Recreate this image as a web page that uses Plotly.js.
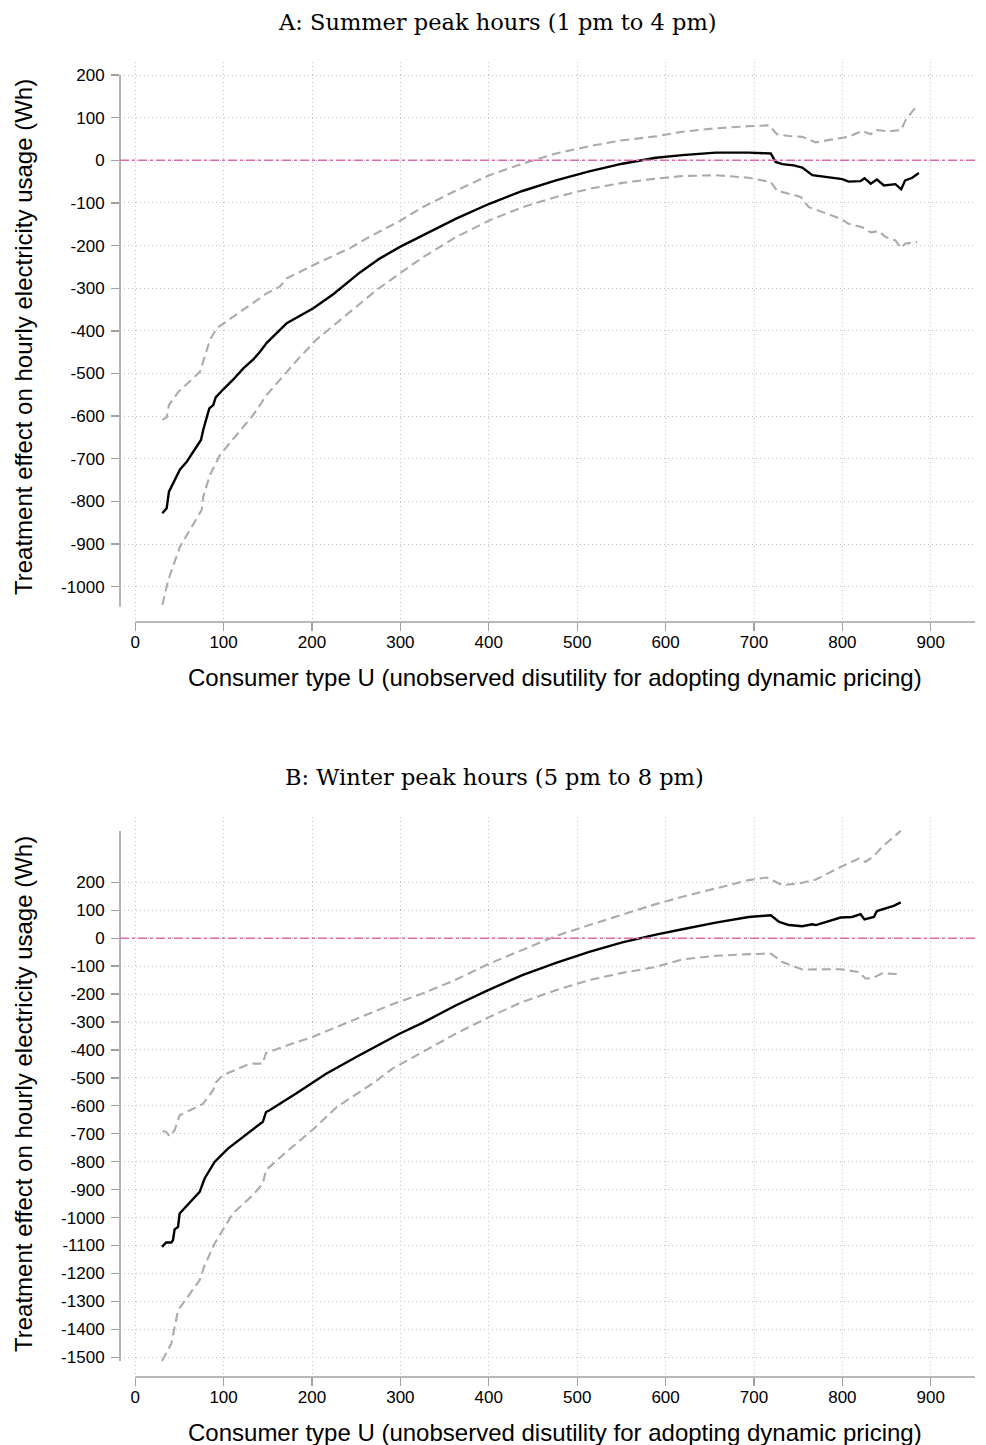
<!DOCTYPE html>
<html>
<head>
<meta charset="utf-8">
<script src="https://cdn.plot.ly/plotly-3.0.1.min.js"></script>
<style>
html,body{margin:0;padding:0;background:#fff;}
#chart{width:986px;height:1445px;}
</style>
</head>
<body>
<div id="chart"></div>
<script>
// ---------- Panel A: Summer peak hours ----------
const summerEffectU = [30.7, 35.6, 38.2, 41.3, 43.9, 47.6, 50.7, 58.3, 67.6, 74.4, 77, 79.3, 83.8, 88.3, 91, 99.7, 111, 122.3, 133.6, 141.2, 148.8, 167.5, 171.4, 201.5, 224, 254.3, 276.9, 299.5, 325, 363, 400.6, 438, 476, 513.6, 551, 589, 619, 656.7, 694, 719, 724.5, 732, 745, 754.6, 766, 781, 800, 807, 820.5, 825, 832, 839, 847, 860, 866.5, 871, 879, 886.5];
const summerEffect = [-828, -816, -777, -765, -754, -738, -725, -707, -679, -656, -632, -613, -582, -574, -556, -537, -514, -488, -467, -449, -428, -390, -382, -347, -314, -263, -230, -203, -176, -137, -102, -72, -47, -26, -8, 6, 12, 18, 18, 16, -4, -9, -12, -17, -35, -39, -44, -50, -49, -42, -55, -45, -59, -56, -68, -47, -41, -30];

const summerUpperU = [30.7, 35.6, 38.2, 48.8, 73.3, 79, 84.6, 92.2, 129.9, 148.8, 163.8, 171.4, 205.3, 243, 261.9, 299.5, 325, 363, 400.6, 438, 476, 513.6, 551, 589, 619, 656.7, 694, 717, 726, 739.5, 754.6, 770, 788.5, 807, 822.4, 832, 837.5, 852.5, 866.5, 871.4, 884.5];
const summerUpper = [-609, -603, -574, -543, -496, -457, -421, -394, -339, -312, -296, -277, -242, -206, -183, -142, -110, -71, -35, -8, 16, 33, 47, 56, 67, 75, 80, 82, 61, 57, 55, 42, 49, 55, 69, 61, 71, 68, 71, 94, 129];

const summerLowerU = [30.7, 37.4, 50.7, 62, 75.2, 77, 84.6, 95.9, 122.3, 133.6, 148.8, 171.4, 186.4, 205.3, 273.2, 299.5, 325, 363, 400.6, 438, 476, 513.6, 551, 589, 619, 656.7, 694, 719, 726, 752.8, 762, 798, 807, 822.4, 832, 841, 849, 860, 866, 871.4, 884.5];
const summerLower = [-1043, -984, -906, -867, -820, -789, -738, -691, -625, -597, -550, -496, -461, -420, -304, -265, -228, -180, -141, -110, -86, -67, -53, -43, -37, -35, -41, -51, -71, -86, -110, -137, -149, -157, -169, -166, -180, -188, -205, -195, -192];

// ---------- Panel B: Winter peak hours ----------
const winterEffectU = [30.3, 35, 40.9, 42.7, 44.6, 48.4, 50.3, 72.9, 78.5, 89.8, 104.9, 133, 144.4, 148, 152, 182, 216, 250, 269, 299, 325, 363, 400.6, 438, 476, 513.6, 551, 589, 619, 656.7, 694, 719, 728.5, 739.5, 754.6, 766, 770, 798, 811, 820.5, 825, 835.6, 839, 848.5, 858, 866];
const winterEffect = [-1105, -1089, -1089, -1081, -1042, -1034, -985, -908, -860, -801, -753, -685, -657, -622, -616, -556, -485, -425, -392, -342, -303, -240, -184, -132, -88, -49, -15, 13, 32, 56, 76, 82, 58, 47, 43, 50, 47, 74, 76, 86, 67, 76, 97, 106, 116, 128];

const winterUpperU = [30.7, 35, 38.9, 44.6, 50.3, 73, 76.6, 88, 91.7, 97, 103, 125.5, 133, 144, 148, 178, 201, 246, 269, 291, 325, 363, 400.6, 438, 476, 513.6, 551, 589, 619, 656.7, 694, 714.5, 732, 751, 770, 798, 818.6, 826, 835.6, 845, 866];
const winterUpper = [-690, -693, -709, -687, -634, -599, -593, -545, -515, -497, -485, -455, -449, -449, -411, -377, -353, -294, -264, -236, -198, -148, -91, -43, 8, 47, 83, 122, 148, 178, 208, 217, 190, 196, 210, 255, 285, 273, 294, 327, 384];

const winterLowerU = [30.3, 40.9, 48.4, 72.9, 78.5, 89.8, 110.5, 133, 144.4, 148, 171, 201, 228, 270, 291, 325, 363, 400.6, 438, 476, 513.6, 551, 589, 619, 656.7, 694, 719, 732, 754.6, 798, 818.6, 826, 833.6, 845, 866];
const winterLower = [-1513, -1451, -1332, -1224, -1171, -1093, -985, -920, -878, -830, -765, -685, -604, -517, -467, -407, -341, -282, -228, -186, -150, -124, -103, -76, -63, -57, -55, -85, -112, -111, -121, -144, -144, -126, -129];

const xTicks = [0, 100, 200, 300, 400, 500, 600, 700, 800, 900];
const yTicksA = [-1000, -900, -800, -700, -600, -500, -400, -300, -200, -100, 0, 100, 200];
const yTicksB = [-1500, -1400, -1300, -1200, -1100, -1000, -900, -800, -700, -600, -500, -400, -300, -200, -100, 0, 100, 200];

const titleA = "A: Summer peak hours (1 pm to 4 pm)";
const titleB = "B: Winter peak hours (5 pm to 8 pm)";
const xTitle = "Consumer type U (unobserved disutility for adopting dynamic pricing)";
const yTitle = "Treatment effect on hourly electricity usage (Wh)";

// ---------- styles ----------
const W = 986, H = 1445;
const sans = "Liberation Sans, Arial, sans-serif";
const serif = "DejaVu Serif, serif";
const axisGray = "#a0a0a0";
const gridGray = "#c2c2c2";
const ciStyle = {color: "#ababab", width: 2.1, dash: "9px,5px"};
const estStyle = {color: "#000000", width: 2.4};

function traces(xa, ya, u, e, uu, up, lu, lo) {
  return [
    {x: uu, y: up, xaxis: xa, yaxis: ya, type: "scatter", mode: "lines", line: ciStyle, hoverinfo: "skip"},
    {x: lu, y: lo, xaxis: xa, yaxis: ya, type: "scatter", mode: "lines", line: ciStyle, hoverinfo: "skip"},
    {x: u, y: e, xaxis: xa, yaxis: ya, type: "scatter", mode: "lines", line: estStyle}
  ];
}

const data = [].concat(
  traces("x", "y", summerEffectU, summerEffect, summerUpperU, summerUpper, summerLowerU, summerLower),
  traces("x2", "y2", winterEffectU, winterEffect, winterUpperU, winterUpper, winterLowerU, winterLower)
);

const xRange = [-17.2, 950];
const xDomain = [120 / W, 975 / W];
const domA = [1 - 622 / H, 1 - 62 / H];
const domB = [1 - 1377 / H, 1 - 817 / H];

function xAxis(anchor) {
  return {
    domain: xDomain, range: xRange, anchor: anchor,
    tickmode: "array", tickvals: xTicks, ticktext: xTicks.map(String),
    showgrid: true, gridcolor: gridGray, griddash: "1px,3px", gridwidth: 1,
    zeroline: false, showline: false,
    ticks: "outside", ticklen: 8, tickwidth: 1.3, tickcolor: axisGray,
    ticklabelstandoff: -3,
    tickfont: {family: sans, size: 17, color: "#000"}
  };
}
function yAxis(anchor, dom, rng, tv) {
  return {
    domain: dom, range: rng, anchor: anchor,
    tickmode: "array", tickvals: tv, ticktext: tv.map(String),
    showgrid: true, gridcolor: gridGray, griddash: "1px,3px", gridwidth: 1,
    zeroline: false, showline: false,
    ticks: "outside", ticklen: 8, tickwidth: 1.3, tickcolor: axisGray,
    ticklabelstandoff: 3,
    tickfont: {family: sans, size: 17, color: "#000"}
  };
}

const pink = "#dc6aac";
const shapes = [
  {type: "line", xref: "x domain", yref: "y", x0: 0, x1: 0, y0: 200, y1: -1047, line: {color: axisGray, width: 1.6}},
  {type: "line", xref: "x", yref: "y domain", x0: 0, x1: xRange[1], y0: 0, y1: 0, line: {color: axisGray, width: 1.6}},
  {type: "line", xref: "x domain", yref: "y", x0: 0, x1: 1, y0: 0, y1: 0, line: {color: pink, width: 1.4, dash: "dashdot"}},
  {type: "line", xref: "x2 domain", yref: "y2", x0: 0, x1: 0, y0: 384, y1: -1513, line: {color: axisGray, width: 1.6}},
  {type: "line", xref: "x2", yref: "y2 domain", x0: 0, x1: xRange[1], y0: 0, y1: 0, line: {color: axisGray, width: 1.6}},
  {type: "line", xref: "x2 domain", yref: "y2", x0: 0, x1: 1, y0: 0, y1: 0, line: {color: pink, width: 1.4, dash: "dashdot"}}
];

function ann(text, xpx, ypx, font, angle) {
  return {text: text, xref: "paper", yref: "paper", x: xpx / W, y: 1 - ypx / H,
          xanchor: "center", yanchor: "middle", showarrow: false, font: font, textangle: angle || 0};
}
const titleFont = {family: serif, size: 22.5, color: "#000"};
const axTitleFont = {family: sans, size: 24, color: "#000"};
const annotations = [
  ann(titleA, 497, 22, titleFont),
  ann(titleB, 495, 777, titleFont),
  ann(xTitle, 555, 677, axTitleFont),
  ann(xTitle, 555, 1432, axTitleFont),
  ann(yTitle, 23, 337, axTitleFont, -90),
  ann(yTitle, 23, 1094, axTitleFont, -90)
];

const layout = {
  width: W, height: H,
  margin: {l: 0, r: 0, t: 0, b: 0},
  paper_bgcolor: "#fff", plot_bgcolor: "#fff",
  showlegend: false,
  xaxis: xAxis("y"),
  yaxis: yAxis("x", domA, [-1082.8, 230.5], yTicksA),
  xaxis2: xAxis("y2"),
  yaxis2: yAxis("x2", domB, [-1570.5, 433.8], yTicksB),
  shapes: shapes,
  annotations: annotations
};

Plotly.newPlot("chart", data, layout, {displayModeBar: false, staticPlot: true});
</script>
</body>
</html>
